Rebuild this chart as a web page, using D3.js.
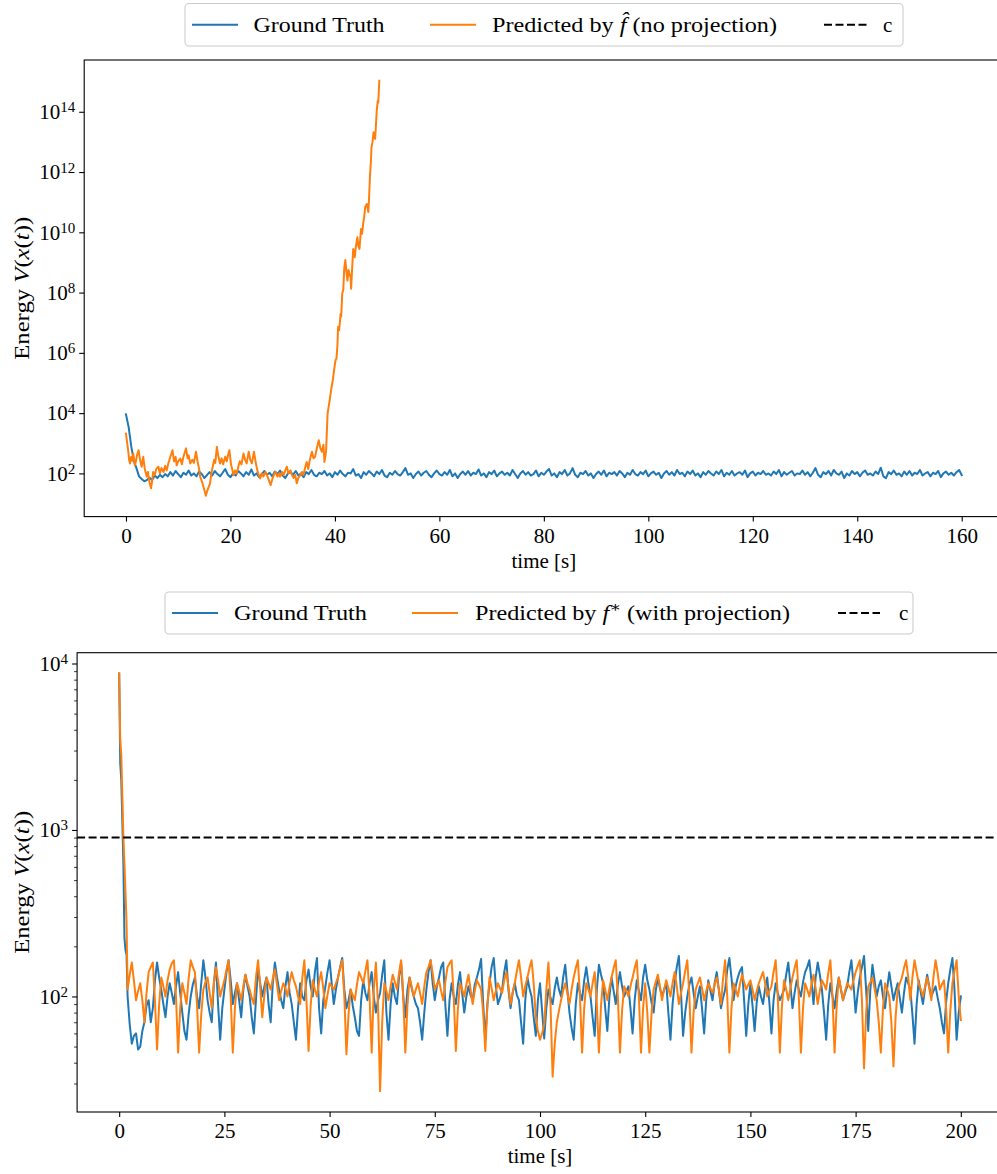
<!DOCTYPE html>
<html><head><meta charset="utf-8">
<script src="https://cdn.jsdelivr.net/npm/d3@7"></script>
<style>
body{margin:0;background:#fff}
svg{display:block}
text{font-family:"Liberation Serif","DejaVu Serif",serif;fill:#000}
</style>
</head><body>
<svg id="c" width="997" height="1174"></svg>
<script>
// ---------------- DATA ----------------
// Top panel: ground truth, sampled every 0.5 s from 0 to 160 s
const gtTop = [
9100, 3500, 800, 260, 150, 80, 65, 55, 60, 72, 60, 85, 70, 90, 75, 95,
80, 110, 85, 120, 95, 75, 105, 90, 125, 85,
100, 80, 115, 95, 70, 88, 110, 85, 120, 95,
80, 105, 140, 90, 75, 100, 85, 120, 100, 80,
110, 90, 135, 85, 100, 75, 95, 120, 90, 105,
80, 115, 95, 125, 85, 70, 100, 110, 90, 120,
85, 100, 75, 110, 95, 130, 90, 80, 105, 95,
120, 85, 100, 75, 110, 90, 125, 95, 80, 105,
100, 140, 85, 95, 70, 110, 90, 120, 100, 80,
115, 95, 130, 85, 75, 105, 90, 120, 95, 85,
110, 150, 90, 100, 70, 95, 115, 85, 105, 120,
90, 75, 100, 125, 95, 85, 110, 90, 130, 80,
100, 70, 95, 115, 90, 120, 85, 105, 95, 135,
85, 100, 75, 110, 95, 125, 80, 100, 115, 90,
105, 85, 130, 95, 70, 100, 120, 90, 110, 85,
95, 125, 80, 105, 90, 115, 140, 85, 100, 75,
110, 95, 130, 85, 100, 150, 90, 75, 105, 95,
120, 85, 100, 70, 95, 115, 90, 125, 80, 105,
95, 110, 85, 120, 100, 75, 105, 90, 130, 95,
85, 110, 95, 125, 80, 100, 115, 90, 105, 70,
100, 120, 90, 110, 85, 130, 95, 105, 80, 115,
95, 125, 85, 100, 75, 110, 90, 120, 100, 85,
115, 95, 130, 80, 105, 90, 120, 85, 100, 110,
90, 125, 75, 100, 115, 85, 105, 95, 120, 90,
100, 85, 115, 95, 130, 80, 110, 90, 105, 120,
85, 100, 95, 125, 90, 110, 80, 105, 150, 90,
75, 110, 95, 120, 85, 130, 100, 90, 115, 70,
100, 85, 120, 95, 110, 80, 105, 125, 90, 100,
85, 115, 95, 155, 80, 70, 110, 95, 125, 90,
100, 80, 115, 90, 120, 85, 105, 95, 130, 85,
100, 110, 80, 105, 95, 120, 75, 100, 115, 90,
105, 85, 110, 130, 88
];
const gtTopStep = 0.5;

// Top panel: prediction without projection (diverges)
const predTopTime = [
0.0, 0.2, 0.45, 0.6, 0.77, 1.0, 1.2, 1.4, 1.7, 1.9, 2.1, 2.4, 2.7, 3.0, 3.3, 3.6, 4.0, 4.2, 4.5, 4.8,
5.0, 5.2, 5.5, 5.8, 6.2, 6.5, 6.8, 7.2, 7.5, 7.8, 8.1, 8.5, 8.9, 9.2, 9.5, 9.7, 10.0, 10.4, 10.7, 11.0,
11.5, 11.8, 12.0, 12.3, 12.7, 13.0, 13.4, 13.7, 14.0, 14.2, 14.6, 15.0, 15.3, 15.6, 16.1, 16.3, 16.6, 16.9, 17.1, 17.4,
17.7, 18.0, 18.3, 18.6, 19.0, 19.3, 19.6, 19.8, 20.1, 20.4, 20.6, 20.9, 21.2, 21.5, 21.8, 22.1, 22.5, 22.8, 23.1, 23.5,
23.8, 24.1, 24.5, 24.8, 25.0, 25.3, 25.7, 26.0, 26.3, 26.7, 27.0, 27.3, 27.7, 28.0, 28.3, 28.6, 29.0, 29.3, 29.5, 29.9,
30.2, 30.5, 30.8, 31.1, 31.5, 31.8, 32.1, 32.4, 32.7, 33.0, 33.4, 33.7, 34.0, 34.3, 34.6, 34.9, 35.2, 35.6, 35.9, 36.2,
36.5, 36.9, 37.2, 37.5, 37.8, 38.0, 38.3, 38.6, 39.0, 39.3, 39.6, 39.9, 40.1, 40.3, 40.5, 40.6, 40.8, 41.1, 41.2, 41.4,
41.6, 41.8, 42.0, 42.2, 42.4, 42.6, 42.8, 43.0, 43.1, 43.3, 43.5, 43.7, 43.8, 44.0, 44.3, 44.5, 44.7, 44.9, 45.0, 45.2,
45.4, 45.6, 45.8, 46.1, 46.4, 46.5, 46.7, 46.9, 47.0, 47.2, 47.4, 47.5, 47.7, 47.9, 48.0, 48.2, 48.3, 48.5
];
const predTopVal = [
2090, 1120, 525, 282, 214, 355, 263, 457, 186, 251, 398, 589, 282, 166, 355, 141, 78, 112, 50, 32,
56, 112, 89, 141, 166, 100, 151, 112, 178, 126, 214, 355, 589, 251, 355, 186, 251, 309, 200, 355,
676, 316, 398, 214, 282, 224, 525, 251, 141, 78, 50, 28, 18, 28, 47, 89, 166, 282, 224, 759,
355, 214, 316, 200, 355, 251, 447, 589, 200, 126, 87, 126, 100, 166, 251, 200, 457, 282, 214, 525,
282, 214, 525, 251, 166, 100, 68, 100, 79, 112, 87, 63, 41, 63, 89, 112, 79, 100, 78, 112,
89, 126, 166, 100, 126, 87, 71, 89, 47, 71, 89, 112, 89, 158, 240, 141, 282, 525, 316, 355,
631, 1260, 708, 525, 891, 240, 525, 9800, 2.7e4, 6.3e4, 1.26e5, 3.2e5, 5.6e5, 6.5e5, 2.0e6, 7.2e6, 5.6e6, 2.0e7, 1.6e7, 9.1e7,
1.26e8, 6.9e8, 1.2e9, 5.0e8, 2.5e8, 5.6e8, 4.2e8, 3.2e8, 1.35e8, 6.3e8, 2.8e9, 2.0e9, 1.5e9, 3.2e9, 6.9e9, 3.5e9, 2.8e9, 7.9e9, 1.3e10, 8.9e9,
1.9e10, 3.2e10, 6.8e10, 8.7e10, 4.7e10, 1.0e11, 6.6e11, 2.5e12, 6.6e12, 1.0e13, 2.1e13, 1.6e13, 1.26e13, 5.0e13, 1.07e14, 2.3e14, 2.0e14, 1.07e15
];

// Bottom panel: initial decay (0..1.75 s every 0.25 s)
const bottomTimeStart = [0, 0.25, 0.5, 0.75, 1, 1.25, 1.5, 1.75];
const gtBottomStart = [8700, 2500, 2000, 1120, 620, 224, 190, 178];
const predBottomStart = [8700, 3550, 2800, 1600, 910, 630, 420, 280];
// Bottom panel: values at whole seconds t = 2, 3, ..., 200
const gtBottomWhole = [
100, 52, 60, 50, 70, 95, 85, 160, 110, 75,
120, 90, 140, 80, 55, 100, 130, 85, 165, 95,
70, 160, 55, 110, 165, 90, 120, 75, 135, 100,
60, 150, 100, 130, 70, 160, 110, 85, 140, 90,
55, 120, 95, 145, 100, 170, 60, 115, 165, 90,
130, 170, 85, 110, 75, 58, 125, 95, 140, 80,
105, 165, 55, 120, 90, 160, 75, 130, 100, 85,
55, 110, 165, 95, 130, 160, 58, 120, 90, 140,
80, 115, 95, 130, 168, 55, 120, 170, 90, 110,
165, 85, 120, 95, 52, 130, 100, 58, 120, 56,
110, 90, 130, 100, 155, 80, 55, 120, 95, 150,
100, 58, 155, 120, 62, 130, 90, 140, 100, 115,
60, 125, 95, 155, 110, 80, 130, 100, 120, 55,
120, 175, 58, 100, 130, 85, 115, 60, 125, 95,
140, 85, 110, 170, 95, 130, 150, 58, 120, 62,
115, 90, 130, 60, 120, 95, 110, 160, 85, 125,
100, 140, 165, 90, 160, 110, 55, 120, 85, 130,
95, 115, 165, 80, 130, 175, 62, 155, 100, 125,
85, 140, 95, 120, 80, 130, 110, 52, 125, 90,
135, 100, 115, 85, 60, 120, 170, 55, 100
];
// Bottom panel: values at half seconds t = 2.5, 3.5, ..., 199.5
const gtBottomHalf = [
68, 58, 48, 62, 88, 70, 125, 130, 90, 100,
105, 115, 105, 62, 78, 118, 100, 120, 130, 80,
120, 90, 85, 140, 125, 105, 95, 110, 115, 75,
95, 120, 115, 90, 120, 130, 95, 115, 105, 70,
85, 100, 125, 115, 140, 85, 95, 140, 120, 110,
150, 110, 95, 88, 62, 95, 105, 120, 100, 95,
135, 80, 90, 100, 130, 100, 110, 112, 90, 70,
80, 140, 120, 115, 150, 90, 95, 100, 118, 105,
100, 102, 118, 145, 90, 90, 150, 115, 98, 140,
110, 105, 102, 70, 95, 112, 75, 95, 82, 85,
98, 112, 110, 130, 110, 65, 90, 105, 125, 120,
75, 110, 135, 85, 100, 108, 118, 115, 108, 85,
95, 108, 130, 125, 92, 108, 112, 110, 80, 90,
150, 105, 80, 118, 105, 100, 85, 95, 108, 120,
110, 98, 145, 130, 115, 142, 95, 90, 88, 92,
100, 112, 92, 95, 105, 102, 135, 118, 105, 110,
122, 150, 125, 130, 135, 80, 90, 100, 108, 110,
105, 140, 118, 105, 150, 110, 110, 125, 115, 100,
112, 115, 108, 98, 105, 120, 78, 90, 105, 112,
115, 108, 98, 70, 92, 145, 110, 80
];
const predBottomWhole = [
110, 160, 95, 120, 70, 140, 160, 48, 130, 100,
145, 165, 46, 120, 90, 165, 140, 46, 110, 130,
85, 150, 100, 125, 165, 46, 120, 95, 135, 110,
90, 165, 75, 130, 110, 145, 95, 120, 100, 140,
115, 90, 165, 47, 125, 100, 140, 85, 120, 110,
130, 165, 45, 110, 95, 140, 120, 165, 46, 160,
27, 120, 95, 135, 110, 165, 46, 130, 100, 120,
90, 140, 165, 110, 125, 95, 150, 165, 47, 120,
100, 135, 90, 125, 110, 47, 130, 95, 120, 105,
140, 90, 120, 165, 100, 130, 165, 75, 55, 68,
160, 33, 70, 95, 120, 90, 130, 165, 46, 120,
100, 140, 46, 125, 95, 130, 165, 46, 115, 100,
130, 165, 46, 120, 46, 110, 135, 95, 125, 100,
140, 90, 120, 165, 46, 110, 130, 95, 120, 105,
130, 90, 165, 46, 120, 100, 135, 110, 125, 95,
120, 140, 100, 115, 165, 46, 125, 95, 130, 165,
46, 120, 100, 135, 90, 125, 110, 165, 46, 130,
95, 120, 110, 140, 165, 37, 115, 130, 95, 46,
120, 100, 38, 110, 130, 165, 95, 165, 120, 100,
130, 95, 165, 110, 125, 46, 120, 165, 72
];
const predBottomHalf = [
135, 125, 108, 95, 105, 150, 95, 90, 115, 125,
158, 100, 85, 105, 128, 150, 88, 78, 122, 105,
120, 125, 112, 145, 100, 85, 108, 115, 120, 98,
130, 115, 102, 120, 128, 118, 108, 112, 122, 125,
100, 128, 95, 88, 110, 122, 112, 102, 115, 120,
148, 100, 78, 102, 118, 130, 142, 100, 110, 90,
70, 108, 115, 122, 138, 100, 88, 115, 110, 105,
115, 150, 138, 118, 108, 122, 158, 100, 85, 110,
118, 110, 108, 118, 80, 88, 112, 108, 112, 125,
115, 105, 142, 130, 115, 148, 120, 62, 60, 110,
90, 52, 82, 108, 105, 110, 148, 100, 85, 110,
120, 90, 88, 110, 112, 148, 100, 82, 108, 115,
148, 100, 85, 80, 78, 122, 115, 110, 112, 120,
115, 105, 142, 100, 80, 120, 112, 108, 112, 118,
110, 128, 100, 85, 110, 118, 122, 118, 110, 108,
130, 120, 108, 140, 100, 88, 110, 112, 148, 100,
85, 110, 118, 112, 108, 118, 138, 100, 88, 112,
108, 115, 125, 152, 95, 80, 122, 112, 70, 85,
110, 70, 75, 120, 148, 130, 130, 140, 110, 115,
112, 130, 138, 118, 85, 82, 142, 100
];
const cValue = 900;

const xTicksTop = [0, 20, 40, 60, 80, 100, 120, 140, 160];
const xTicksBottom = [0, 25, 50, 75, 100, 125, 150, 175, 200];
const yTicksTop = [1e2, 1e4, 1e6, 1e8, 1e10, 1e12, 1e14];
const yTicksBottom = [1e2, 1e3, 1e4];
const legendLabels = ["Ground Truth", "Predicted by", "c"];

const BLUE = "#1f77b4", ORANGE = "#ff7f0e";

// ---------------- DRAW ----------------
const svg = d3.select("#c");
const FS = 21;

function zip(t, v) { return t.map((d, i) => [d, v[i]]); }

function panel(cfg) {
  const b = cfg.box;
  const all = cfg.series.flatMap(s => s.data);
  const tExt = d3.extent(all, d => d[0]);
  const tPad = 0.05 * (tExt[1] - tExt[0]);
  const vExt = d3.extent(all, d => Math.log10(d[1]));
  const vPad = 0.05 * (vExt[1] - vExt[0]);
  const x = d3.scaleLinear().domain([tExt[0] - tPad, tExt[1] + tPad]).range([b.x0, b.x1]);
  const y = d3.scaleLog().domain([Math.pow(10, vExt[0] - vPad), Math.pow(10, vExt[1] + vPad)]).range([b.y1, b.y0]);
  const g = svg.append("g");
  const cid = "clip" + cfg.id;
  g.append("clipPath").attr("id", cid).append("rect")
    .attr("x", b.x0).attr("y", b.y0).attr("width", b.x1 - b.x0).attr("height", b.y1 - b.y0);
  const plot = g.append("g").attr("clip-path", `url(#${cid})`);
  const line = d3.line().x(d => x(d[0])).y(d => y(d[1]));
  cfg.series.forEach(s => {
    plot.append("path").attr("d", line(s.data)).attr("fill", "none")
      .attr("stroke", s.color).attr("stroke-width", 2).attr("stroke-linejoin", "round").attr("stroke-linecap", "square");
  });
  if (cfg.c != null) {
    plot.append("line").attr("x1", b.x0).attr("x2", b.x1).attr("y1", y(cfg.c)).attr("y2", y(cfg.c))
      .attr("stroke", "#000").attr("stroke-width", 2).attr("stroke-dasharray", "8,3.5");
  }
  // x axis
  const xa = g.append("g").attr("transform", `translate(0,${b.y1})`)
    .call(d3.axisBottom(x).tickValues(cfg.xTicks).tickSize(5).tickPadding(6).tickFormat(d3.format("d")));
  xa.select(".domain").remove();
  xa.selectAll(".tick line").attr("stroke", "#000").attr("stroke-width", 1.1);
  xa.selectAll(".tick text").attr("font-size", FS).attr("font-family", '"Liberation Serif", serif');
  // y axis major
  const ya = g.append("g").attr("transform", `translate(${b.x0},0)`)
    .call(d3.axisLeft(y).tickValues(cfg.yTicks).tickSize(5).tickPadding(4).tickFormat(() => ""));
  ya.select(".domain").remove();
  ya.selectAll(".tick line").attr("stroke", "#000").attr("stroke-width", 1.1);
  ya.selectAll(".tick text").attr("font-size", FS).attr("font-family", '"Liberation Serif", serif')
    .each(function(d) {
      const t = d3.select(this);
      t.append("tspan").text("10");
      t.append("tspan").attr("dy", "-0.45em").attr("font-size", 15).text(Math.round(Math.log10(d)));
    });
  if (cfg.minor) {
    const [lo, hi] = y.domain();
    const minor = [];
    for (let e = Math.floor(Math.log10(lo)); e <= Math.ceil(Math.log10(hi)); e++)
      for (let m = 2; m <= 9; m++) { const v = m * Math.pow(10, e); if (v >= lo && v <= hi) minor.push(v); }
    const ym = g.append("g").attr("transform", `translate(${b.x0},0)`)
      .call(d3.axisLeft(y).tickValues(minor).tickSize(3).tickFormat(() => ""));
    ym.select(".domain").remove();
    ym.selectAll(".tick line").attr("stroke", "#000").attr("stroke-width", 0.8);
  }
  // spines
  g.append("rect").attr("x", b.x0).attr("y", b.y0).attr("width", b.x1 - b.x0).attr("height", b.y1 - b.y0)
    .attr("fill", "none").attr("stroke", "#000").attr("stroke-width", 1.1);
  // labels
  g.append("text").attr("x", (b.x0 + b.x1) / 2).attr("y", b.y1 + 51).attr("text-anchor", "middle")
    .attr("font-size", FS).text("time [s]");
  const yl = g.append("text").attr("transform", `translate(29,${(b.y0 + b.y1) / 2}) rotate(-90)`)
    .attr("text-anchor", "middle").attr("font-size", FS)
    .attr("textLength", 143).attr("lengthAdjust", "spacingAndGlyphs");
  yl.append("tspan").text("Energy ");
  yl.append("tspan").attr("font-style", "italic").text("V");
  yl.append("tspan").text("(");
  yl.append("tspan").attr("font-style", "italic").text("x");
  yl.append("tspan").text("(");
  yl.append("tspan").attr("font-style", "italic").text("t");
  yl.append("tspan").text("))");
  // legend
  const L = cfg.legend;
  const lg = g.append("g");
  lg.append("rect").attr("x", L.x0).attr("y", L.y0).attr("width", L.x1 - L.x0).attr("height", L.y1 - L.y0)
    .attr("rx", 4).attr("fill", "#fff").attr("fill-opacity", 0.8).attr("stroke", "#cccccc").attr("stroke-width", 1.1);
  const cy = (L.y0 + L.y1) / 2;
  const hs = [[L.h[0], BLUE, null], [L.h[1], ORANGE, null], [L.h[2], "#000", "8,3.5"]];
  hs.forEach(([hx, col, dash]) => {
    const l = lg.append("line").attr("x1", hx[0]).attr("x2", hx[1]).attr("y1", cy).attr("y2", cy)
      .attr("stroke", col).attr("stroke-width", 2);
    if (dash) l.attr("stroke-dasharray", dash);
  });
  lg.append("text").attr("x", L.t[0]).attr("y", cy + 7).attr("font-size", FS)
    .attr("textLength", L.w[0]).attr("lengthAdjust", "spacingAndGlyphs").text(legendLabels[0]);
  const t2 = lg.append("text").attr("x", L.t[1]).attr("y", cy + 7).attr("font-size", FS)
    .attr("textLength", L.w[1]).attr("lengthAdjust", "spacingAndGlyphs");
  t2.append("tspan").text(legendLabels[1] + " ");
  cfg.legendMath(t2);
  lg.append("text").attr("x", L.t[2]).attr("y", cy + 7).attr("font-size", FS).text(legendLabels[2]);
}

const gtTopTime = gtTop.map((_, i) => i * gtTopStep);
panel({
  id: "top",
  box: { x0: 84.2, x1: 1003.5, y0: 60, y1: 516.6 },
  series: [
    { data: zip(gtTopTime, gtTop), color: BLUE },
    { data: zip(predTopTime, predTopVal), color: ORANGE }
  ],
  xTicks: xTicksTop, yTicks: yTicksTop, minor: false, c: null,
  legend: { x0: 185, x1: 903, y0: 3.5, y1: 46, h: [[192, 238], [430, 476], [824, 867]], t: [253.5, 492, 883], w: [131, 285] },
  legendMath: t => {
    t.append("tspan").attr("font-style", "italic").text("f\u0302");
    t.append("tspan").text(" (no projection)");
  }
});

// merge whole-second and half-second samples of the bottom panel
function mergeBottom(start, whole, half) {
  const pts = zip(bottomTimeStart, start);
  whole.forEach((v, i) => pts.push([2 + i, v]));
  half.forEach((v, i) => pts.push([2.5 + i, v]));
  return pts.sort((a, b) => a[0] - b[0]);
}
panel({
  id: "bot",
  box: { x0: 77.1, x1: 1002.9, y0: 652.7, y1: 1112 },
  series: [
    { data: mergeBottom(gtBottomStart, gtBottomWhole, gtBottomHalf), color: BLUE },
    { data: mergeBottom(predBottomStart, predBottomWhole, predBottomHalf), color: ORANGE }
  ],
  xTicks: xTicksBottom, yTicks: yTicksBottom, minor: true, c: cValue,
  legend: { x0: 165, x1: 913, y0: 592, y1: 634, h: [[172, 218], [412, 458], [838, 880]], t: [234, 475, 899], w: [133, 315] },
  legendMath: t => {
    t.append("tspan").attr("font-style", "italic").text("f");
    t.append("tspan").attr("dy", -8).attr("font-size", 15).text("\u2217");
    t.append("tspan").attr("dy", 8).text(" (with projection)");
  }
});
</script>
</body></html>
